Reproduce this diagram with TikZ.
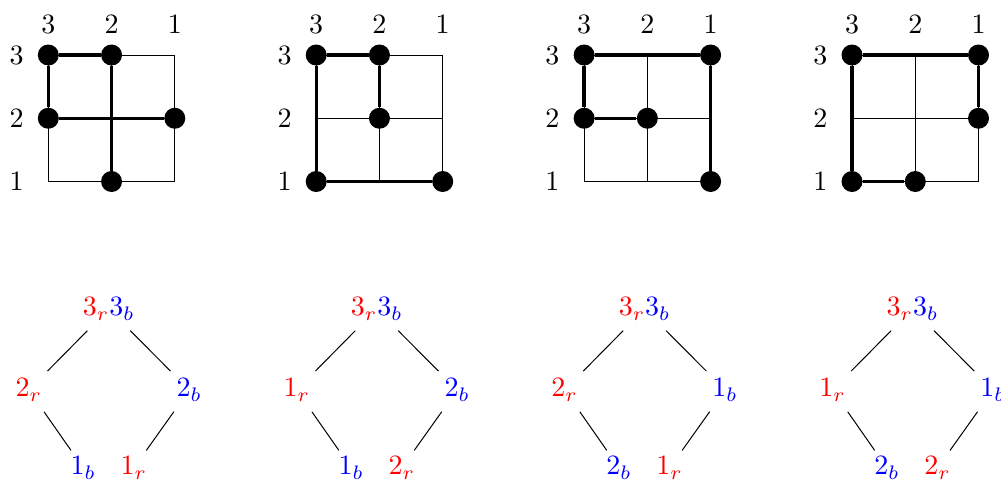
\documentclass[tikz,border=0pt]{standalone}
\usepackage{xcolor}
\tikzset{
  dot/.style={circle,fill=black,inner sep=0pt,minimum size=10.5pt},
  thinline/.style={line width=0.5pt},
  thickline/.style={line width=1.65pt},
  lab/.style={inner sep=0pt,scale=1.4,font=\normalsize},
  lattop/.style={circle,inner sep=0pt,minimum size=21.4pt,scale=1.4,font=\normalsize},
  latmid/.style={circle,inner sep=0pt,minimum size=18.6pt,scale=1.4,font=\normalsize},
  latbot/.style={circle,inner sep=0pt,minimum size=15pt,scale=1.4,font=\normalsize},
  latline/.style={line width=0.5pt},
}
% #1 prefix, #2 x offset, #3 left, #4 right, #5 bottom-left, #6 bottom-right
\newcommand\mylattice[6]{%
  \begin{scope}[shift={(#2,0)}]
    \node[lattop] (#1t) at (60.5,309) {$\textcolor{red}{3_r}\textcolor{blue}{3_b}$};
    \node[latmid] (#1l) at (-19.5,390) {$\textcolor{red}{#3_r}$};
    \node[latmid] (#1r) at (141,390) {$\textcolor{blue}{#4_b}$};
    \node[latbot] (#1bl) at (35,468) {$\textcolor{blue}{#5_b}$};
    \node[latbot] (#1br) at (85.5,468) {$\textcolor{red}{#6_r}$};
    \draw[latline] (#1t) -- (#1l);
    \draw[latline] (#1t) -- (#1r);
    \draw[latline] (#1l) -- (#1bl);
    \draw[latline] (#1r) -- (#1br);
  \end{scope}}
\newcommand\mygridbase[1]{%
  \foreach \i in {0,1,2}{%
    \draw[thinline] (\i,0) -- (\i,2);
    \draw[thinline] (0,\i) -- (2,\i);}
  \foreach \i/\t in {0/3,1/2,2/1}{%
    \node[lab] (#1c\t) at (\i,-0.49) {\t};
    \node[lab] (#1r\t) at (-0.5,\i) {\t};}}
\begin{document}
\begin{tikzpicture}[x=0.5pt,y=-0.5pt]
\useasboundingbox (0,0) rectangle (1001,483);
% grid 1
\begin{scope}[shift={(48.3,55)},x=31.625pt,y=-31.625pt]
  \mygridbase{ga}
  \node[dot] (ga00) at (0,0) {};
  \node[dot] (ga10) at (1,0) {};
  \node[dot] (ga01) at (0,1) {};
  \node[dot] (ga21) at (2,1) {};
  \node[dot] (ga12) at (1,2) {};
  \draw[thickline] (ga00) -- (ga10);
  \draw[thickline] (ga00) -- (ga01);
  \draw[thickline] (ga01) -- (ga21);
  \draw[thickline] (ga10) -- (ga12);
\end{scope}
% grid 2
\begin{scope}[shift={(316.2,55)},x=31.625pt,y=-31.625pt]
  \mygridbase{gb}
  \node[dot] (gb00) at (0,0) {};
  \node[dot] (gb10) at (1,0) {};
  \node[dot] (gb11) at (1,1) {};
  \node[dot] (gb02) at (0,2) {};
  \node[dot] (gb22) at (2,2) {};
  \draw[thickline] (gb00) -- (gb10);
  \draw[thickline] (gb10) -- (gb11);
  \draw[thickline] (gb00) -- (gb02);
  \draw[thickline] (gb02) -- (gb22);
\end{scope}
% grid 3
\begin{scope}[shift={(584.1,55)},x=31.625pt,y=-31.625pt]
  \mygridbase{gc}
  \node[dot] (gc00) at (0,0) {};
  \node[dot] (gc20) at (2,0) {};
  \node[dot] (gc01) at (0,1) {};
  \node[dot] (gc11) at (1,1) {};
  \node[dot] (gc22) at (2,2) {};
  \draw[thickline] (gc00) -- (gc20);
  \draw[thickline] (gc00) -- (gc01);
  \draw[thickline] (gc01) -- (gc11);
  \draw[thickline] (gc20) -- (gc22);
\end{scope}
% grid 4
\begin{scope}[shift={(852,55)},x=31.625pt,y=-31.625pt]
  \mygridbase{gd}
  \node[dot] (gd00) at (0,0) {};
  \node[dot] (gd20) at (2,0) {};
  \node[dot] (gd21) at (2,1) {};
  \node[dot] (gd02) at (0,2) {};
  \node[dot] (gd12) at (1,2) {};
  \draw[thickline] (gd00) -- (gd20);
  \draw[thickline] (gd20) -- (gd21);
  \draw[thickline] (gd00) -- (gd02);
  \draw[thickline] (gd02) -- (gd12);
\end{scope}
% lattices
\mylattice{la}{48.3}{2}{2}{1}{1}
\mylattice{lb}{316.2}{1}{2}{1}{2}
\mylattice{lc}{584.1}{2}{1}{2}{1}
\mylattice{ld}{852}{1}{1}{2}{2}
\end{tikzpicture}
\end{document}
